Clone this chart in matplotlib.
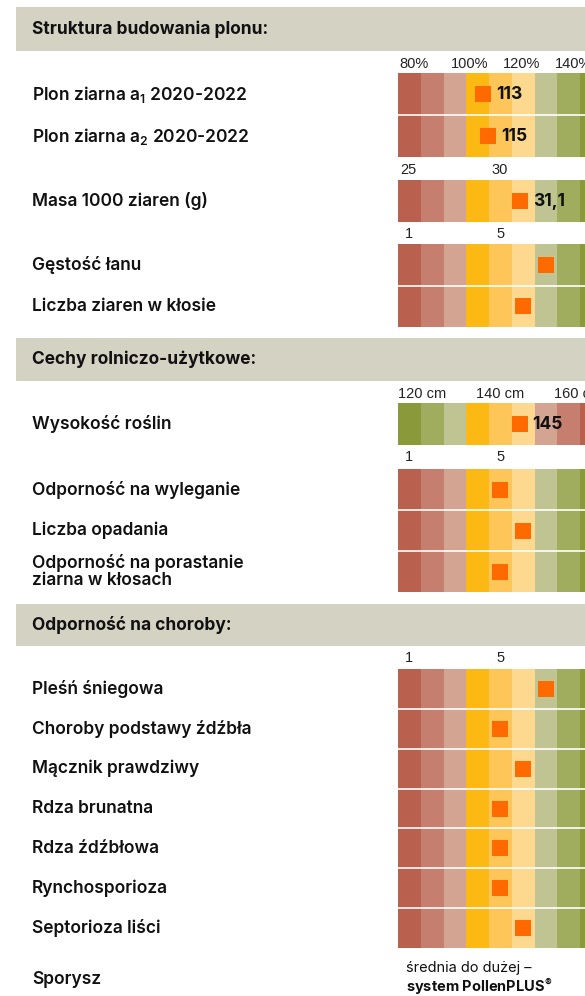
#!/usr/bin/env python3

import matplotlib.pyplot as plt
from matplotlib.patches import Rectangle

# --- data ---
headers = ['Struktura budowania plonu:', 'Cechy rolniczo-użytkowe:', 'Odporność na choroby:']

yield_labels = ['Plon ziarna a$_1$ 2020-2022', 'Plon ziarna a$_2$ 2020-2022']
yield_values = [113, 115]
pct_ticks = [80, 100, 120, 140]

mass_label = 'Masa 1000 ziaren (g)'
mass_value = 31.1
mass_ticks = [25, 30]

struct_labels = ['Gęstość łanu', 'Liczba ziaren w kłosie']
struct_values = [7, 6]

height_label = 'Wysokość roślin'
height_value = 145
height_ticks = [120, 140, 160]

agro_labels = ['Odporność na wyleganie', 'Liczba opadania', 'Odporność na porastanie\nziarna w kłosach']
agro_values = [5, 6, 5]

disease_labels = ['Pleśń śniegowa', 'Choroby podstawy źdźbła', 'Mącznik prawdziwy', 'Rdza brunatna',
                  'Rdza źdźbłowa', 'Rynchosporioza', 'Septorioza liści']
disease_values = [7, 5, 6, 5, 5, 5, 6]

rating_ticks = [1, 5]

# --- style ---
band_colors = ['#b9604f', '#c67f6e', '#d4a493', '#fdb913', '#fec659', '#fdd88f',
               '#bfc492', '#a1ad5e', '#8a9a3a']
# height: greens on the left, reds on the right, yellows unchanged
height_colors = band_colors[8:5:-1] + band_colors[3:6] + band_colors[2::-1]
marker_color = '#ff6a00'
header_color = '#d4d2c3'
label_font = ['Inter', 'Liberation Sans', 'DejaVu Sans']
tick_font = ['Liberation Sans', 'DejaVu Sans']

plt.rcParams['mathtext.default'] = 'regular'

X0 = 398       # left edge of the colour scale
COL_W = 22.75  # width of one column


# scales: value -> x pixel
def x_rating(v):
    return X0 + (v - 0.5) * COL_W


def x_pct(v):
    return 483 + (v - 113) * 2.6


def x_mass(v):
    return 408 + (v - 25) * 18.4


def x_height(v):
    return 500 + (v - 140) * 3.9


fig = plt.figure(figsize=(5.85, 9.96), dpi=100)
ax = fig.add_axes([0, 0, 1, 1])
ax.set_xlim(0, 585)
ax.set_ylim(996, 0)
ax.axis('off')


def header(text, y0, y1):
    ax.add_patch(Rectangle((16, y0), 600, y1 - y0, color=header_color, lw=0))
    ax.text(32, (y0 + y1) / 2, text, family=label_font, weight='bold', fontsize=12.5,
            va='center', ha='left', color='#111111')


def group(y0, y1, nrows, colors=band_colors):
    for i, c in enumerate(colors):
        ax.add_patch(Rectangle((X0 + i * COL_W, y0), COL_W, y1 - y0, color=c, lw=0))
    h = (y1 - y0) / nrows
    for k in range(1, nrows):
        ax.plot([X0, 585], [y0 + k * h] * 2, color='white', lw=1.2)
    return [y0 + (k + 0.5) * h for k in range(nrows)]


def ticks(vals, fmt, xfun, y, ha='center', dx=0):
    for v in vals:
        ax.text(xfun(v) + dx, y, fmt.format(v), family=tick_font, fontsize=10.5, va='center',
                ha=ha, color='#222222')


def label(text, y):
    ax.text(32, y, text, family=label_font, weight='semibold', fontsize=12.5, va='center',
            ha='left', color='#111111', linespacing=1.0)


def marker(x, y, value_text=None):
    ax.add_patch(Rectangle((x - 8, y - 8), 16, 16, color=marker_color, lw=0))
    if value_text:
        ax.text(x + 13, y, value_text, family=label_font, weight='bold', fontsize=12.5,
                va='center', ha='left', color='#111111')


# section 1
header(headers[0], 7, 51)
ticks(pct_ticks, '{}%', x_pct, 64, ha='left', dx=2)
ys = group(73, 157, 2)
for lab, v, y in zip(yield_labels, yield_values, ys):
    label(lab, y)
    marker(x_pct(v), y, str(v))

ticks(mass_ticks, '{}', x_mass, 170)
ys = group(180, 222, 1)
label(mass_label, ys[0])
marker(x_mass(mass_value), ys[0], str(mass_value).replace('.', ','))

ticks(rating_ticks, '{}', x_rating, 234)
ys = group(244, 327, 2)
for lab, v, y in zip(struct_labels, struct_values, ys):
    label(lab, y)
    marker(x_rating(v), y)

# section 2
header(headers[1], 338, 381)
ticks(height_ticks, '{} cm', x_height, 394)
ys = group(403, 445, 1, colors=height_colors)
label(height_label, ys[0])
marker(x_height(height_value), ys[0], str(height_value))

ticks(rating_ticks, '{}', x_rating, 457)
ys = group(469, 592, 3)
for lab, v, y in zip(agro_labels, agro_values, ys):
    label(lab, y)
    marker(x_rating(v), y)

# section 3
header(headers[2], 604, 646)
ticks(rating_ticks, '{}', x_rating, 658)
ys = group(669, 948, 7)
for lab, v, y in zip(disease_labels, disease_values, ys):
    label(lab, y)
    marker(x_rating(v), y)

label('Sporysz', 979)
ax.text(406, 968, 'średnia do dużej –', family=label_font, fontsize=10.5, va='center',
        ha='left', color='#111111')
ax.text(406, 987, 'system PollenPLUS$^{®}$', family=label_font, weight='bold', fontsize=10.5,
        va='center', ha='left', color='#111111')

fig.savefig('out.png', dpi=100)
